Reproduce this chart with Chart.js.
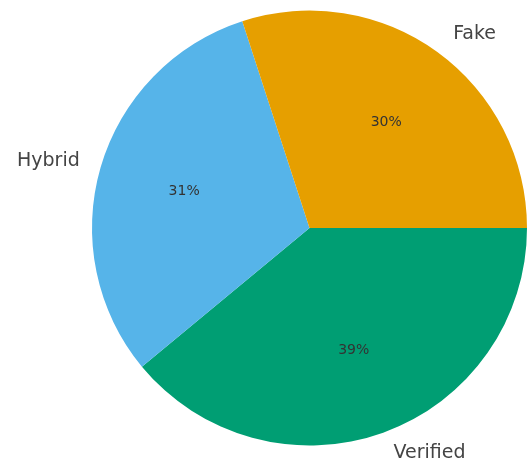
<!DOCTYPE html>
<html>
<head>
<meta charset="utf-8">
<script src="https://cdn.jsdelivr.net/npm/chart.js@4"></script>
<style>
  html, body { margin: 0; padding: 0; background: #fff; }
  #wrap { width: 527px; height: 470px; }
</style>
</head>
<body>
<div id="wrap"><canvas id="pie"></canvas></div>
<script>
// Slices in clockwise order starting at 3 o'clock (same as matplotlib's counter-clockwise Fake, Hybrid, Verified)
const labels = ['Verified', 'Hybrid', 'Fake'];
const shares = [39, 31, 30];
const colors = ['#009E73', '#56B4E9', '#E69F00'];

// Draw percent labels inside and category labels outside
const sliceLabels = {
  id: 'sliceLabels',
  afterDatasetsDraw(chart) {
    const ctx = chart.ctx;
    const meta = chart.getDatasetMeta(0);
    const total = shares.reduce((a, b) => a + b, 0);
    meta.data.forEach((arc, i) => {
      const mid = (arc.startAngle + arc.endAngle) / 2;
      const r = arc.outerRadius;
      const cx = arc.x, cy = arc.y;

      ctx.save();
      ctx.textBaseline = 'middle';

      // percent
      ctx.font = '14px "DejaVu Sans"';
      ctx.fillStyle = '#333333';
      ctx.textAlign = 'center';
      const pct = Math.round(shares[i] / total * 100) + '%';
      ctx.fillText(pct, cx + 0.6 * r * Math.cos(mid), cy + 0.6 * r * Math.sin(mid));

      // category
      ctx.font = '19px "DejaVu Sans"';
      ctx.fillStyle = '#444444';
      const lx = cx + 1.1 * r * Math.cos(mid);
      const ly = cy + 1.1 * r * Math.sin(mid);
      ctx.textAlign = Math.cos(mid) >= 0 ? 'left' : 'right';
      ctx.fillText(labels[i], lx + (Math.cos(mid) >= 0 ? 3 : 0), ly);
      ctx.restore();
    });
  }
};

new Chart(document.getElementById('pie'), {
  type: 'pie',
  data: {
    labels,
    datasets: [{
      data: shares,
      backgroundColor: colors,
      borderWidth: 0
    }]
  },
  options: {
    responsive: true,
    maintainAspectRatio: false,
    animation: false,
    rotation: 90,
    layout: {
      padding: { left: 92, right: 0, top: 10, bottom: 24 }
    },
    plugins: {
      legend: { display: false },
      tooltip: { enabled: false }
    }
  },
  plugins: [sliceLabels]
});
</script>
</body>
</html>
